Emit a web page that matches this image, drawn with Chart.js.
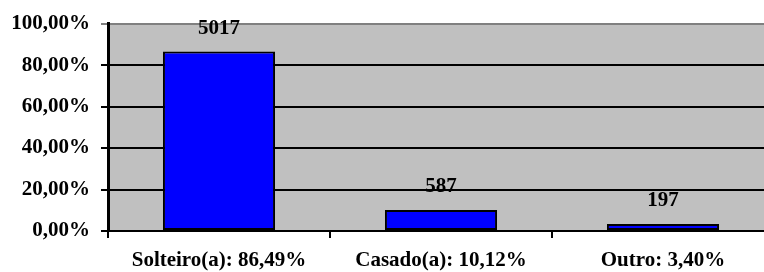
<!DOCTYPE html>
<html>
<head>
<meta charset="utf-8">
<script src="https://cdn.jsdelivr.net/npm/chart.js@4/dist/chart.umd.min.js"></script>
<style>
html,body{margin:0;padding:0;background:#fff;overflow:hidden;width:764px;height:272px;}
#wrap{position:relative;width:774px;height:272px;}
</style>
</head>
<body>
<div id="wrap"><canvas id="c" width="774" height="272"></canvas></div>
<script>
const categories = ["Solteiro(a): 86,49%", "Casado(a): 10,12%", "Outro: 3,40%"];
const percentValues = [86.49, 10.12, 3.40];
const countLabels = ["5017", "587", "197"];
const yTicks = [0, 20, 40, 60, 80, 100];

const FONT = "'Liberation Serif', 'Times New Roman', serif";

const plotBg = {
  id: 'plotBg',
  beforeDraw(chart) {
    const {ctx, chartArea: a} = chart;
    ctx.save();
    ctx.fillStyle = '#C0C0C0';
    ctx.fillRect(a.left, a.top, a.right - a.left, a.bottom - a.top);
    ctx.restore();
  }
};

const valueLabels = {
  id: 'valueLabels',
  afterDatasetsDraw(chart) {
    const {ctx} = chart;
    const meta = chart.getDatasetMeta(0);
    ctx.save();
    ctx.fillStyle = '#000';
    ctx.font = 'bold 21px ' + FONT;
    ctx.textAlign = 'center';
    ctx.textBaseline = 'middle';
    meta.data.forEach((bar, i) => {
      ctx.fillText(countLabels[i], bar.x, bar.y - 23);
    });
    ctx.restore();
  }
};

new Chart(document.getElementById('c'), {
  type: 'bar',
  data: {
    labels: categories,
    datasets: [{
      data: percentValues,
      backgroundColor: '#0000FF',
      borderColor: '#000000',
      borderWidth: 2,
      borderSkipped: false,
      categoryPercentage: 1,
      barPercentage: 0.505
    }]
  },
  options: {
    responsive: false,
    animation: false,
    events: [],
    layout: {padding: {top: 22, right: 0, left: 0, bottom: 0}},
    plugins: {legend: {display: false}, tooltip: {enabled: false}},
    scales: {
      x: {
        afterFit(s) { s.height = 41; },
        offset: true,
        grid: {
          offset: true,
          drawOnChartArea: false,
          drawTicks: true,
          tickLength: 7,
          color: '#000',
          lineWidth: 2
        },
        border: {display: true, color: '#000', width: 2},
        ticks: {
          color: '#000',
          font: {family: FONT, size: 21, weight: 'bold'},
          padding: 10,
          maxRotation: 0,
          autoSkip: false
        }
      },
      y: {
        min: 0,
        max: 100,
        afterFit(s) { s.width = 108; },
        afterBuildTicks(s) { s.ticks = yTicks.map(v => ({value: v})); },
        grid: {
          color: (c) => (c.tick && c.tick.value === 100) ? '#808080' : '#000',
          lineWidth: 2,
          drawTicks: true,
          tickLength: 7
        },
        border: {display: true, color: '#000', width: 3},
        ticks: {
          color: '#000',
          font: {family: FONT, size: 21, weight: 'bold'},
          padding: 11,
          callback: (v) => v.toFixed(2).replace('.', ',') + '%'
        }
      }
    }
  },
  plugins: [plotBg, valueLabels]
});
</script>
</body>
</html>
